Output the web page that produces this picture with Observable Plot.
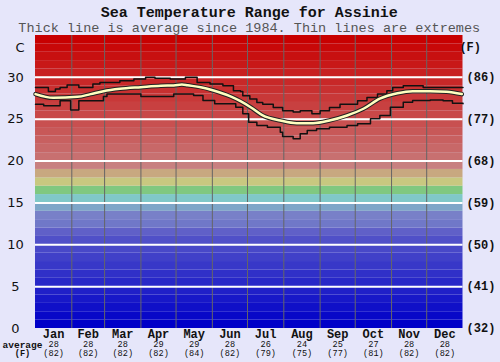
<!DOCTYPE html>
<html>
<head>
<meta charset="utf-8">
<script src="https://cdn.jsdelivr.net/npm/d3@7"></script>
<script src="https://cdn.jsdelivr.net/npm/@observablehq/plot@0.6"></script>
<style>
  html, body { margin: 0; padding: 0; background: #e6e6fa; }
  #chart svg { display: block; }
</style>
</head>
<body>
<div id="chart"></div>
<script>
// ---- data ----
const title = "Sea Temperature Range for Assinie";
const subtitle = "Thick line is average since 1984. Thin lines are extremes";
const months = ["Jan","Feb","Mar","Apr","May","Jun","Jul","Aug","Sep","Oct","Nov","Dec"];
const monthStart = [0,31,59,90,120,151,181,212,243,273,304,334,365];
const avgC = [28,28,28,29,29,28,26,24,25,27,28,28];
const avgF = [82,82,82,82,84,82,79,75,77,81,82,82];
const ticksC = [0,5,10,15,20,25,30];
const ticksF = [32,41,50,59,68,77,86];

// average line (day of year, °C)
const avgDay  = [0,15,36,47,58,72,90,107,118,125,130,141,152,166,175,184,194,209,223,237,251,266,280,294,309,322,337,351,364];
const avgTemp = [28.0,27.55,27.67,28.0,28.35,28.63,28.83,29.0,29.03,29.15,29.05,28.83,28.43,27.75,27.15,26.4,25.45,24.85,24.53,24.53,24.85,25.45,26.25,27.45,28.1,28.35,28.35,28.27,28.0];

// upper extreme
const maxDay  = [0,11,17,21,27,37,49,55,72,84,94,102,115,128,138,149,160,169,175,177,183,189,194,203,211,220,226,236,243,251,260,275,283,292,300,305,314,331,348,365];
const maxTemp = [28.8,28.3,28.6,28.8,29.1,28.8,29.2,29.4,29.6,29.8,30.0,29.9,29.8,30.0,29.4,29.2,29.0,28.4,28.3,27.8,27.4,27.0,26.8,26.4,26.0,25.85,26.0,25.65,26.0,26.4,26.8,27.2,27.6,28.0,28.4,28.8,29.0,28.8,28.8,28.8];

// lower extreme
const minDay  = [0,7,21,30,37,58,61,90,118,135,143,153,171,177,182,189,198,209,211,220,226,232,240,251,266,275,286,294,303,314,322,337,348,356,365];
const minTemp = [26.8,26.6,27.2,26.1,27.2,27.7,28.0,27.7,28.0,27.84,27.24,26.84,26.44,25.65,24.65,24.25,24.05,23.45,22.94,22.66,23.26,23.65,23.86,24.05,24.25,24.45,25.05,25.45,26.44,27.04,27.24,27.3,27.2,26.92,26.84];

// ---- styles ----
const bandColors = [];
for (let d = 0; d < 10; d++) bandColors.push(d3.rgb(8*d, 8*d, 200).formatHex());
bandColors.push("#5050c8","#6060c8","#7078c8","#7880c8","#7ea6c8", // 10..14
                "#80c8c8","#80c880","#c8c880","#c8a880","#c88080"); // 15..19
for (let d = 20; d < 35; d++) { const g = Math.max(0, 112 - (d-20)*8); bandColors.push(d3.rgb(200, g, g).formatHex()); }
const bands = d3.range(35);

const mono = "Liberation Mono, Courier New, monospace";
const sans = "DejaVu Sans, Verdana, sans-serif";
const mid = months.map((m,i) => (monthStart[i] + monthStart[i+1]) / 2);

const avgData = avgDay.map((d,i) => ({d, t: avgTemp[i]}));
const maxData = maxDay.map((d,i) => ({d, t: maxTemp[i]}));
const minData = minDay.map((d,i) => ({d, t: minTemp[i]}));

const T = {lineAnchor: "middle", fill: "#111"};

const chart = Plot.plot({
  width: 500, height: 362,
  marginLeft: 35, marginRight: 37.5, marginTop: 35, marginBottom: 34,
  x: {domain: [0, 365], axis: null},
  y: {domain: [0, 35], axis: null},
  color: {type: "identity"},
  style: {background: "#e6e6fa", fontFamily: mono, overflow: "visible"},
  marks: [
    Plot.rect(bands, {x1: 0, x2: 365, y1: d => d, y2: d => d + 1, fill: d => bandColors[d], inset: 0}),
    Plot.ruleX(monthStart.slice(1, -1), {stroke: "#666", strokeWidth: 1}),
    Plot.ruleY(ticksC.slice(1), {stroke: "white", strokeWidth: 2}),
    Plot.line(maxData, {x: "d", y: "t", curve: "step-after", stroke: "#111", strokeWidth: 1.5}),
    Plot.line(minData, {x: "d", y: "t", curve: "step-after", stroke: "#111", strokeWidth: 1.5}),
    Plot.line(avgData, {x: "d", y: "t", curve: "monotone-x", stroke: "#222", strokeWidth: 4.5}),
    Plot.line(avgData, {x: "d", y: "t", curve: "monotone-x", stroke: "#ffffc0", strokeWidth: 2.5}),
    // left axis (C)
    Plot.text(ticksC, {...T, x: 0, y: d => d, dx: -20, text: d => String(d), fontFamily: sans, fontSize: 13}),
    Plot.text(["C"], {...T, frameAnchor: "top-left", dx: -20, dy: 12, text: d => d, fontFamily: sans, fontSize: 13}),
    // right axis (F)
    Plot.text(ticksF, {...T, x: 365, y: (d,i) => ticksC[i], dx: 18, text: d => `(${d})`, fontFamily: mono, fontWeight: "bold", fontSize: 12}),
    Plot.text(["(F)"], {...T, frameAnchor: "top-right", dx: 18, dy: 12, text: d => d, fontFamily: mono, fontWeight: "bold", fontSize: 12}),
    // title & subtitle
    Plot.text([title], {...T, frameAnchor: "top", dy: -23, text: d => d, fontFamily: mono, fontWeight: "bold", fontSize: 15}),
    Plot.text([subtitle], {...T, frameAnchor: "top", dy: -8, text: d => d, fontFamily: mono, fontSize: 13.5, fill: "#555"}),
    // month labels & averages
    Plot.text(months, {...T, x: (d,i) => mid[i], y: 0, dy: 5.5, text: d => d, fontFamily: mono, fontWeight: "bold", fontSize: 12}),
    Plot.text(avgC, {...T, x: (d,i) => mid[i], y: 0, dy: 16, text: d => String(d), fontFamily: mono, fontSize: 8.6}),
    Plot.text(avgF, {...T, x: (d,i) => mid[i], y: 0, dy: 25, text: d => `(${d})`, fontFamily: mono, fontSize: 8.6}),
    Plot.text(["average"], {...T, x: 0, y: 0, dx: -13, dy: 16, text: d => d, fontFamily: mono, fontWeight: "bold", fontSize: 9.5}),
    Plot.text(["(F)"], {...T, x: 0, y: 0, dx: -13, dy: 25, text: d => d, fontFamily: mono, fontWeight: "bold", fontSize: 8.6})
  ]
});
document.getElementById("chart").appendChild(chart);
</script>
</body>
</html>
